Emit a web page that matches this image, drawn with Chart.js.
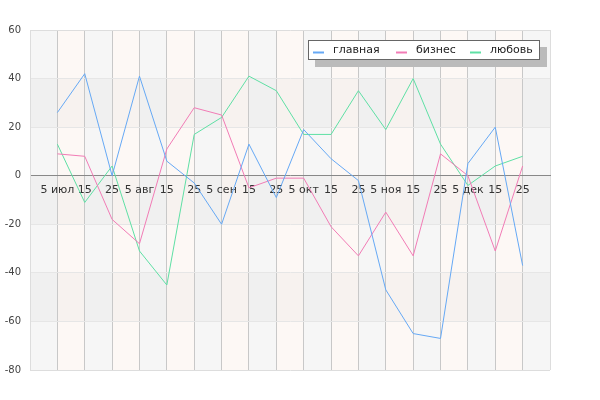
<!DOCTYPE html>
<html>
<head>
<meta charset="utf-8">
<script src="https://cdn.jsdelivr.net/npm/chart.js@4"></script>
<style>
  html, body { margin: 0; padding: 0; background: #fff; }
  #wrap { width: 600px; height: 400px; }
</style>
</head>
<body>
<div id="wrap"><canvas id="chart"></canvas></div>
<script>
const dateLabels = ["5 июл", "15", "25", "5 авг", "15", "25", "5 сен", "15", "25",
                    "5 окт", "15", "25", "5 ноя", "15", "25", "5 дек", "15", "25"]

const seriesNames = ["главная", "бизнес", "любовь"]

const mainValues     = [26, 42, 0, 41, 6, -3, -20, 13, -9, 19, 7, -2, -47, -65, -67, 5, 20, -37]
const businessValues = [9, 8, -18, -28, 11, 28, 25, -5, -1, -1, -21, -33, -15, -33, 9, 0, -31, 4]
const loveValues     = [13, -11, 4, -31, -45, 17, 24, 41, 35, 17, 17, 35, 19, 40, 13, -4, 4, 8]

const yTicks = [-80, -60, -40, -20, 0, 20, 40, 60]

const COLORS = {
  main:     "#66a9f5",
  business: "#f27cb6",
  love:     "#5fe0a5",
}

const FONT = "'DejaVu Sans', sans-serif"

const toPoints = values => values.map((y, x) => ({ x, y }))

// alternating column / row bands behind the grid
const bandsPlugin = {
  id: "bands",
  beforeDraw(chart) {
    const { ctx, chartArea: area, scales: { x, y } } = chart
    ctx.save()
    for (let i = -1; i < dateLabels.length; i++) {
      const x0 = x.getPixelForValue(i)
      const x1 = x.getPixelForValue(i + 1)
      ctx.fillStyle = (i + 1) % 2 === 0 ? "#f6f6f6" : "#fdf8f5"
      ctx.fillRect(x0, area.top, x1 - x0, area.bottom - area.top)
    }
    for (let k = 0; k < yTicks.length - 1; k++) {
      if (k % 2 === 0) continue
      const y0 = y.getPixelForValue(yTicks[k + 1])
      const y1 = y.getPixelForValue(yTicks[k])
      ctx.fillStyle = "rgba(0,0,0,0.025)"
      ctx.fillRect(area.left, y0, area.right - area.left, y1 - y0)
    }
    ctx.restore()
  },
}

// boxed legend with drop shadow, top right inside the plot
const legendPlugin = {
  id: "boxLegend",
  afterDraw(chart) {
    const { ctx, chartArea: area } = chart
    const w = 232, h = 20
    const left = area.right - 10 - w
    const top = area.top + 10
    ctx.save()
    ctx.fillStyle = "#bbbbbb"
    ctx.fillRect(left + 7, top + 7, w, h)
    ctx.fillStyle = "#ffffff"
    ctx.fillRect(left, top, w, h)
    ctx.strokeStyle = "#666666"
    ctx.lineWidth = 1
    ctx.strokeRect(left + 0.5, top + 0.5, w - 1, h - 1)

    ctx.font = `11px ${FONT}`
    ctx.textBaseline = "middle"
    const offsets = [5, 88, 162]
    chart.data.datasets.forEach((ds, i) => {
      const lx = left + offsets[i]
      const ly = top + h / 2 + 2.5
      ctx.strokeStyle = ds.borderColor
      ctx.lineWidth = 2
      ctx.beginPath()
      ctx.moveTo(lx, ly)
      ctx.lineTo(lx + 11, ly)
      ctx.stroke()
      ctx.fillStyle = "#222"
      ctx.fillText(ds.label, lx + 20, top + h / 2)
    })
    ctx.restore()
  },
}

new Chart(document.getElementById("chart"), {
  type: "line",
  data: {
    datasets: [
      { label: seriesNames[0], data: toPoints(mainValues),     borderColor: COLORS.main },
      { label: seriesNames[1], data: toPoints(businessValues), borderColor: COLORS.business },
      { label: seriesNames[2], data: toPoints(loveValues),     borderColor: COLORS.love },
    ],
  },
  options: {
    responsive: true,
    maintainAspectRatio: false,
    animation: false,
    layout: { padding: { top: 30, right: 50, bottom: 30, left: 0 } },
    elements: {
      line:  { borderWidth: 1, tension: 0, fill: false },
      point: { radius: 0, hoverRadius: 0 },
    },
    plugins: {
      legend: { display: false },
      tooltip: { enabled: false },
    },
    scales: {
      x: {
        type: "linear",
        position: { y: 0 },
        min: -1,
        max: dateLabels.length,
        afterBuildTicks: scale => {
          scale.ticks = Array.from({ length: dateLabels.length + 2 }, (_, i) => ({ value: i - 1 }))
        },
        ticks: {
          autoSkip: false,
          maxRotation: 0,
          padding: 8,
          color: "#333",
          font: { family: FONT, size: 11 },
          callback: v => dateLabels[v] ?? "",
        },
        grid: {
          drawTicks: false,
          color: ctx => (ctx.tick && (ctx.tick.value === -1 || ctx.tick.value === dateLabels.length)) ? "#dddddd" : "#c8c8c8",
        },
        border: { color: "#888888", width: 1 },
      },
      y: {
        min: yTicks[0],
        max: yTicks[yTicks.length - 1],
        afterBuildTicks: scale => { scale.ticks = yTicks.map(value => ({ value })) },
        afterFit: scale => { scale.width = 30 },
        ticks: {
          padding: 9,
          color: "#444",
          font: { family: FONT, size: 10 },
        },
        grid: {
          drawTicks: false,
          color: ctx => (ctx.tick && (ctx.tick.value === yTicks[0] || ctx.tick.value === yTicks[yTicks.length - 1])) ? "#dddddd" : "#e6e6e6",
        },
        border: { color: "#dddddd" },
      },
    },
  },
  plugins: [bandsPlugin, legendPlugin],
})
</script>
</body>
</html>
